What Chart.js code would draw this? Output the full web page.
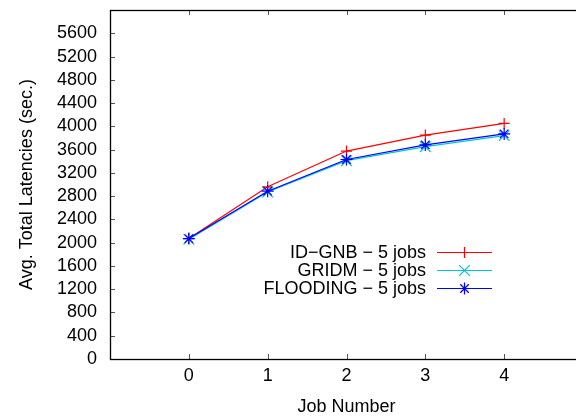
<!DOCTYPE html>
<html>
<head>
<meta charset="utf-8">
<script src="https://cdn.jsdelivr.net/npm/chart.js@4/dist/chart.umd.min.js"></script>
<style>
html, body { margin: 0; padding: 0; overflow: hidden; background: #fff; width: 576px; height: 419px; }
#wrap { position: relative; width: 576px; height: 419px; overflow: hidden; }
#c { display: block; }
</style>
</head>
<body>
<div id="wrap"><canvas id="c" width="584" height="419" style="width:584px;height:419px"></canvas></div>
<script>
// ---- data ----
const jobNumbers = [0, 1, 2, 3, 4];
const idgnb = [2070, 2960, 3575, 3850, 4050];
const gridm = [2060, 2870, 3410, 3650, 3840];
const flooding = [2070, 2885, 3430, 3680, 3870];
const seriesLabels = ['ID\u2212GNB \u2212 5 jobs', 'GRIDM \u2212 5 jobs', 'FLOODING \u2212 5 jobs'];
const seriesColors = ['#ff0000', '#00c8c8', '#0000ff'];
const seriesStyles = ['cross', 'crossRot', 'star'];
const xTickLabels = ['0', '1', '2', '3', '4'];
const yTickLabels = ['0','400','800','1200','1600','2000','2400','2800','3200','3600','4000','4400','4800','5200','5600'];

const FONT = 'Liberation Sans, Arial, Helvetica, sans-serif';

function pts(ys) { return jobNumbers.map((x, i) => ({x: x, y: ys[i]})); }

function drawMarker(ctx, style, x, y, r) {
  ctx.beginPath();
  const d = r * Math.SQRT1_2;
  if (style === 'cross' || style === 'star') {
    ctx.moveTo(x - r, y); ctx.lineTo(x + r, y);
    ctx.moveTo(x, y - r); ctx.lineTo(x, y + r);
  }
  if (style === 'crossRot' || style === 'star') {
    ctx.moveTo(x - d, y - d); ctx.lineTo(x + d, y + d);
    ctx.moveTo(x - d, y + d); ctx.lineTo(x + d, y - d);
  }
  ctx.stroke();
}

const radii = [5.5, 7.5, 6];

const framePlugin = {
  id: 'frame',
  afterDraw(chart) {
    const {ctx, chartArea: a, scales} = chart;
    ctx.save();
    // inward ticks (mirrored)
    ctx.strokeStyle = '#555';
    ctx.lineWidth = 1;
    const tl = 5;
    scales.x.ticks.forEach(t => {
      if (!xTickLabels.includes(String(t.value))) return;
      const px = Math.round(scales.x.getPixelForValue(t.value)) + 0.5;
      ctx.beginPath();
      ctx.moveTo(px, a.bottom); ctx.lineTo(px, a.bottom - tl);
      ctx.moveTo(px, a.top); ctx.lineTo(px, a.top + tl);
      ctx.stroke();
    });
    scales.y.ticks.forEach(t => {
      if (!yTickLabels.includes(String(t.value))) return;
      const py = Math.round(scales.y.getPixelForValue(t.value)) + 0.5;
      ctx.beginPath();
      ctx.moveTo(a.left, py); ctx.lineTo(a.left + tl, py);
      ctx.moveTo(a.right, py); ctx.lineTo(a.right - tl, py);
      ctx.stroke();
    });
    // frame
    ctx.strokeStyle = '#000';
    ctx.lineWidth = 1.3;
    ctx.strokeRect(Math.round(a.left) + 0.5, Math.round(a.top) + 0.5,
                   Math.round(a.right - a.left), Math.round(a.bottom - a.top));
    // legend (text right-aligned, sample on the right)
    const textRight = a.right - 157;
    const lineL = a.right - 146;
    const lineR = a.right - 91;
    const top = a.top + 241.5;
    const rowH = 18.4;
    ctx.font = '18px ' + FONT;
    ctx.textAlign = 'right';
    ctx.textBaseline = 'middle';
    chart.data.datasets.forEach((ds, i) => {
      const y = Math.round(top + i * rowH) + 0.5;
      ctx.fillStyle = '#000';
      ctx.fillText(seriesLabels[i], textRight, y + 1);
      ctx.strokeStyle = seriesColors[i];
      ctx.lineWidth = 1.2;
      ctx.beginPath();
      ctx.moveTo(lineL, y); ctx.lineTo(lineR, y);
      ctx.stroke();
      drawMarker(ctx, seriesStyles[i], (lineL + lineR) / 2, y, radii[i]);
    });
    ctx.restore();
  }
};

const mk = (i, data, order) => ({
  label: seriesLabels[i], data: pts(data), borderColor: seriesColors[i], backgroundColor: seriesColors[i],
  borderWidth: 1.2, pointStyle: seriesStyles[i], pointRadius: radii[i], pointBorderWidth: 1.2,
  pointBorderColor: seriesColors[i], pointBackgroundColor: seriesColors[i], tension: 0, order: order,
  pointHoverRadius: radii[i]
});

function zeroPad(s) { s.paddingTop = 0; s.paddingBottom = 0; s.paddingLeft = 0; s.paddingRight = 0; }

new Chart(document.getElementById('c'), {
  type: 'line',
  data: {
    datasets: [
      mk(0, idgnb, 2),
      mk(1, gridm, 1),
      mk(2, flooding, 0)
    ]
  },
  options: {
    responsive: false,
    maintainAspectRatio: false,
    animation: false,
    events: [],
    layout: { autoPadding: false, padding: { top: 10, right: 1, left: 0, bottom: 0 } },
    plugins: { legend: { display: false }, tooltip: { enabled: false } },
    scales: {
      x: {
        type: 'linear', min: -1, max: 5,
        afterFit(s) { s.height = 60; zeroPad(s); },
        ticks: {
          stepSize: 1, padding: 6, color: '#000', font: { family: FONT, size: 18 },
          maxRotation: 0, autoSkip: false,
          callback: v => xTickLabels.includes(String(v)) ? String(v) : ''
        },
        grid: { display: false, drawTicks: false },
        border: { display: false },
        title: { display: true, text: 'Job Number', color: '#000',
                 font: { family: FONT, size: 18 }, padding: { top: 0, bottom: 1 } }
      },
      y: {
        min: 0, max: 6000,
        afterFit(s) { s.width = 110; zeroPad(s); },
        ticks: {
          stepSize: 400, padding: 13, color: '#000', font: { family: FONT, size: 18 },
          autoSkip: false,
          callback: v => yTickLabels.includes(String(v)) ? String(v) : ''
        },
        grid: { display: false, drawTicks: false },
        border: { display: false },
        title: { display: true, text: 'Avg. Total Latencies (sec.)', color: '#000',
                 font: { family: FONT, size: 18 }, padding: { top: 16, bottom: 0 } }
      }
    }
  },
  plugins: [framePlugin]
});
</script>
</body>
</html>
